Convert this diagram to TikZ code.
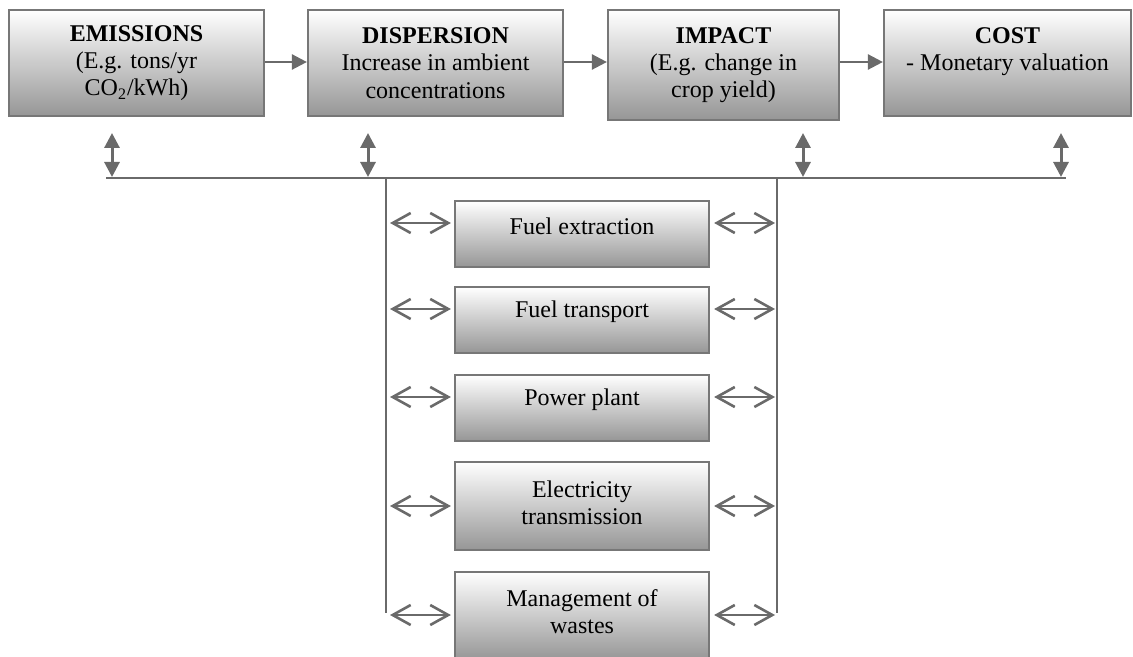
\documentclass[tikz,border=0pt]{standalone}
\usepackage{fontspec}
\setmainfont{Liberation Serif}
\usetikzlibrary{arrows.meta}
\definecolor{ln}{HTML}{6A6A6A}
\definecolor{bd}{HTML}{777777}
\definecolor{bot}{HTML}{969696}
\begin{document}
\begin{tikzpicture}[x=0.5pt,y=-0.5pt,
  font=\fontsize{12}{13.6}\selectfont,
  box/.style={draw=bd, line width=1.1pt, top color=white, bottom color=bot, inner sep=0pt, align=center},
  topbox/.style={box, minimum width=127.5pt, minimum height=53pt},
  smallbox/.style={box, minimum width=127pt},
  lbl/.style={align=center, inner sep=0pt},
  flow/.style={draw=ln, line width=1.25pt, -{Triangle[length=7.5pt,width=7.5pt]}},
  vdbl/.style={draw=ln, line width=1.5pt, {Triangle[length=7.5pt,width=7.5pt]}-{Triangle[length=7.5pt,width=7.5pt]}},
  sarrow/.style={draw=ln, line width=1.3pt, {Straight Barb[length=9pt,width=10pt,line width=1.3pt]}-{Straight Barb[length=9pt,width=10pt,line width=1.3pt]}},
  bus/.style={draw=ln, line width=1.1pt}]
\useasboundingbox (0,0) rectangle (1133,657);

% top row
\node[topbox] (E) at (136.5,63) {\textbf{EMISSIONS}\\(E.g. tons/yr\\CO\textsubscript{2}/kWh)};
\node[topbox] (D) at (435.5,63) {\textbf{DISPERSION}\\Increase in ambient\\concentrations};
\node[topbox, minimum width=115.5pt, minimum height=55pt] (I) at (723.5,65) {\textbf{IMPACT}\\(E.g. change in\\crop yield)};
\node[topbox, minimum width=123.5pt] (C) at (1007.5,63) {\textbf{COST}\\- Monetary valuation\\\mbox{}};

\draw[flow] (E.east |- 0,62) -- (D.west |- 0,62);
\draw[flow] (D.east |- 0,62) -- (I.west |- 0,62);
\draw[flow] (I.east |- 0,62) -- (C.west |- 0,62);

% bus
\coordinate (busL) at (106,178);
\coordinate (busR) at (1066,178);
\draw[bus] (busL) -- (busR);
\foreach \n/\x in {1/112,2/368,3/803,4/1061}{
  \coordinate (vt\n) at (\x,133);
  \coordinate (vb\n) at (\x,177);
  \draw[vdbl] (vt\n) -- (vb\n);
}
\coordinate (lt) at (386,178);
\coordinate (lb) at (386,613);
\coordinate (rt) at (777,178);
\coordinate (rb) at (777,613);
\draw[bus] (lt) -- (lb);
\draw[bus] (rt) -- (rb);

% small boxes
\node[smallbox, minimum height=33pt] (b1) at (582,234) {};
\node[smallbox, minimum height=33pt] (b2) at (582,320) {};
\node[smallbox, minimum height=33pt] (b3) at (582,408) {};
\node[smallbox, minimum height=44pt] (b4) at (582,506) {};
\node[smallbox, minimum height=44pt] (b5) at (582,616) {};

\node[lbl] (t1) at (582,226) {Fuel extraction};
\node[lbl] (t2) at (582,312) {Fuel transport};
\node[lbl] (t3) at (582,400) {Power plant};
\node[lbl] (t4) at (582,503) {Electricity\\transmission};
\node[lbl] (t5) at (582,612) {Management of\\wastes};

\foreach \b/\y in {b1/223,b2/309,b3/397,b4/506,b5/615}{
  \coordinate (L\b) at (386,\y);
  \coordinate (R\b) at (777,\y);
  \draw[sarrow, shorten <=2pt, shorten >=1.5pt] (L\b) -- (\b.west |- L\b);
  \draw[sarrow, shorten <=2pt, shorten >=1pt] (\b.east |- R\b) -- (R\b);
}
\end{tikzpicture}
\end{document}
